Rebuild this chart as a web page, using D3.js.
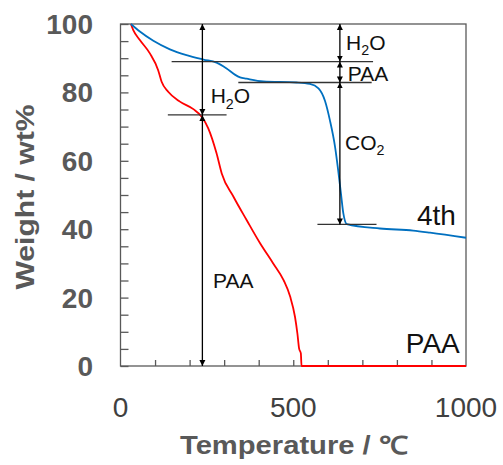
<!DOCTYPE html>
<html><head><meta charset="utf-8">
<script src="https://cdn.jsdelivr.net/npm/d3@7"></script>
<style>body{margin:0;background:#fff}svg{display:block}</style>
</head><body>
<script>
// ---- data ----
const blueT = [30,56,95,143,191,240,278,307,331,346,365,413,510,548,573,592,606,621,630,638,645,655,751,847,896,1000];
const blueW = [100,97.8,95.1,92.6,90.9,89.6,88.7,87.0,85.2,84.4,84.0,83.2,82.9,82.5,81.2,77.5,71.9,64.1,57.3,50.5,44.6,41.5,40.2,39.6,39.0,37.5];
const redT = [30,37,56,85,109,119,138,172,211,235,254,278,293,327,365,404,442,472,491,505,512,517,522,524,1000];
const redW = [100,98.2,95.3,91.4,86.5,83.1,80.2,77.3,75.1,72.9,69.5,62.2,56.3,49.5,42.7,35.9,30.0,25.1,20.3,14.4,9.5,5.1,3.7,0,0];
const xTickLabels = [0,500,1000];
const yTickLabels = [0,20,40,60,80,100];
const hLineW = [89.0,82.9,73.4,41.4];
const hLineT0 = [148,341,137,570];
const hLineT1 = [731,727,307,741];
const arrowT = [237,237,635,635,635];
const arrowW0 = [100,73.4,100,89.0,82.9];
const arrowW1 = [73.4,0,89.0,82.9,41.4];

const W = 503, H = 465;
const m = {left:120.5, top:24, right:37, bottom:99};
const svg = d3.select("body").append("svg").attr("width",W).attr("height",H);
const x = d3.scaleLinear().domain([0,1000]).range([m.left, W-m.right]);
const y = d3.scaleLinear().domain([0,100]).range([H-m.bottom, m.top]);
const axisCol = "#595959";

// frame
svg.append("rect").attr("x",x(0)).attr("y",y(100)).attr("width",x(1000)-x(0)).attr("height",y(0)-y(100))
  .attr("fill","none").attr("stroke",axisCol).attr("stroke-width",1.3);

// y axis ticks (inside)
const yAx = svg.append("g").attr("transform",`translate(${x(0)},0)`)
  .call(d3.axisRight(y).tickValues(d3.range(0,101,5)).tickSize(8).tickFormat(""));
yAx.select(".domain").remove();
yAx.selectAll("line").attr("stroke",axisCol).attr("stroke-width",1.3);
// x axis ticks (inside)
const xAx = svg.append("g").attr("transform",`translate(0,${y(0)})`)
  .call(d3.axisTop(x).tickValues(d3.range(100,1000,100)).tickSize(6).tickFormat(""));
xAx.select(".domain").remove();
xAx.selectAll("line").attr("stroke",axisCol).attr("stroke-width",1.3);

// tick labels
svg.selectAll(".ylab").data(yTickLabels).enter().append("text")
  .attr("x",93).attr("y",d=>y(d)+10).attr("text-anchor","end")
  .attr("font-family","Liberation Sans, Arial, sans-serif").attr("font-weight","bold")
  .attr("font-size",28).attr("fill",axisCol).text(d=>d);
svg.selectAll(".xlab").data(xTickLabels).enter().append("text")
  .attr("x",d=>x(d)).attr("y",417).attr("text-anchor","middle")
  .attr("font-family","Liberation Sans, Arial, sans-serif")
  .attr("font-size",28).attr("fill","#404040").text(d=>d);

// axis titles
svg.append("text").attr("x",294).attr("y",454).attr("text-anchor","middle")
  .attr("font-family","Liberation Sans, Arial, sans-serif").attr("font-weight","bold")
  .attr("font-size",25).attr("fill",axisCol)
  .attr("textLength",228).attr("lengthAdjust","spacingAndGlyphs").text("Temperature / ℃");
svg.append("text").attr("transform","translate(34,197) rotate(-90)").attr("text-anchor","middle")
  .attr("font-family","Liberation Sans, Arial, sans-serif").attr("font-weight","bold")
  .attr("font-size",25).attr("fill",axisCol)
  .attr("textLength",185).attr("lengthAdjust","spacingAndGlyphs").text("Weight / wt%");

// curves
const line = d3.line().x(d=>x(d[0])).y(d=>y(d[1])).curve(d3.curveMonotoneX);
svg.append("path").datum(redT.map((t,i)=>[t,redW[i]])).attr("d",line)
  .attr("fill","none").attr("stroke","#FF0000").attr("stroke-width",1.8);
svg.append("path").datum(blueT.map((t,i)=>[t,blueW[i]])).attr("d",line)
  .attr("fill","none").attr("stroke","#0070C0").attr("stroke-width",1.8);

// horizontal annotation lines
hLineW.forEach((w,i)=>{
  svg.append("line").attr("x1",x(hLineT0[i])).attr("x2",x(hLineT1[i]))
    .attr("y1",y(w)).attr("y2",y(w)).attr("stroke","#333").attr("stroke-width",1.3);
});

// arrows
const defs = svg.append("defs");
defs.append("marker").attr("id","ah").attr("viewBox","0 0 10 10").attr("refX",10).attr("refY",5)
  .attr("markerWidth",6).attr("markerHeight",7).attr("markerUnits","userSpaceOnUse")
  .attr("orient","auto-start-reverse")
  .append("path").attr("d","M0,0 L10,5 L0,10 z").attr("fill","#000");
arrowT.forEach((t,i)=>{
  svg.append("line").attr("x1",x(t)).attr("x2",x(t)).attr("y1",y(arrowW0[i])).attr("y2",y(arrowW1[i]))
    .attr("stroke","#000").attr("stroke-width",1.3)
    .attr("marker-start","url(#ah)").attr("marker-end","url(#ah)");
});

// labels
function lab(t,w,parts,size,anchor){
  const tx = svg.append("text").attr("x",x(t)).attr("y",y(w))
    .attr("font-family","Liberation Sans, Arial, sans-serif").attr("font-size",size)
    .attr("fill","#111").attr("text-anchor",anchor||"start");
  parts.forEach(p=>{
    if(p.sub){
      tx.append("tspan").attr("font-size",size*0.68).attr("dy",size*0.25).text(p.t);
    } else {
      tx.append("tspan").attr("dy",p.after? -size*0.25 : 0).text(p.t);
    }
  });
}
lab(261,76.8,[{t:"H"},{t:"2",sub:true},{t:"O",after:true}],21);
lab(653,92.4,[{t:"H"},{t:"2",sub:true},{t:"O",after:true}],21);
lab(658,83.3,[{t:"PAA"}],21);
lab(650,63.2,[{t:"CO"},{t:"2",sub:true}],21);
lab(268,22.8,[{t:"PAA"}],21);
lab(858,41.2,[{t:"4th"}],28);
lab(982,3.8,[{t:"PAA"}],28,"end");
</script>
</body></html>
